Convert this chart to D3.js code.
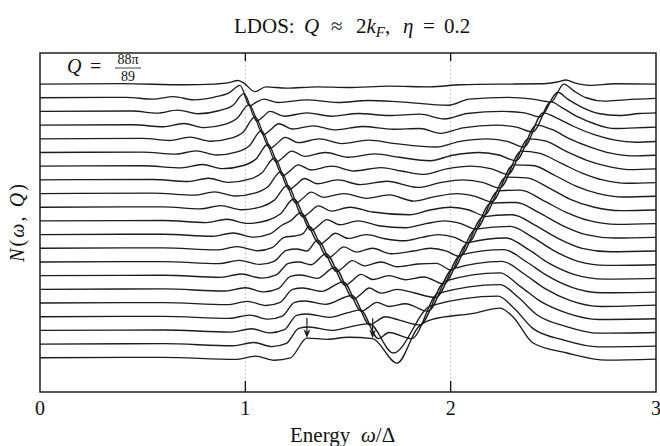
<!DOCTYPE html>
<html>
<head>
<meta charset="utf-8">
<script src="https://cdn.jsdelivr.net/npm/d3@7"></script>
<style>
body { margin: 0; background: #fff; }
text { font-family: "Liberation Serif", "DejaVu Serif", serif; fill: #111; }
</style>
</head>
<body>
<svg id="chart" width="660" height="446"></svg>
<script>
// x ticks and the dotted guides
var energyTicks = [0, 1, 2, 3];
var guideLines = [1, 2];

// one trace per Q, top (Q = 88pi/89) to bottom; each point is [omega, N - offset]
var ldos = [
  [[0,0],[0.4,0.03],[0.7,-0.05],[0.85,0.0],[0.92,0.1],[0.964,0.26],[0.99,0.1],[1.047,-0.55],[1.1,-0.2],[1.2,-0.3],[1.35,-0.2],[1.5,-0.25],[1.7,-0.15],[1.9,-0.2],[2.05,-0.05],[2.3,0],[2.45,0.02],[2.52,0.15],[2.562,0.3],[2.6,0.1],[2.68,-0.1],[2.8,0.02],[3,0]],
  [[0,0],[0.42,0.03],[0.55,-0.1],[0.65,0.08],[0.75,-0.15],[0.85,0.05],[0.92,0.35],[0.974,0.9],[1.022,-0.6],[1.05,-0.35],[1.09,-0.1],[1.16,-0.35],[1.3,-0.15],[1.45,-0.35],[1.6,-0.2],[1.75,-0.3],[1.99,-0.55],[2.09,-0.1],[2.28,0.03],[2.4,-0.1],[2.489,-0.3],[2.551,1.0],[2.6,0.5],[2.66,0.0],[2.75,-0.25],[2.85,-0.15],[3,-0.05]],
  [[0,0],[0.45,0.03],[0.57,-0.12],[0.67,0.1],[0.77,-0.17],[0.87,0.05],[0.94,0.45],[0.993,1.3],[1.056,-0.7],[1.085,-0.4],[1.12,0.0],[1.19,-0.35],[1.3,-0.1],[1.42,-0.35],[1.55,-0.15],[1.7,-0.3],[1.85,-0.2],[1.97,-0.55],[2.08,-0.15],[2.25,0.0],[2.36,-0.1],[2.435,-0.4],[2.522,1.4],[2.57,0.9],[2.64,0.3],[2.72,-0.15],[2.82,-0.3],[2.92,-0.15],[3,-0.1]],
  [[0,0],[0.45,0.03],[0.6,-0.12],[0.7,0.12],[0.8,-0.18],[0.9,0.05],[0.96,0.5],[1.018,1.5],[1.088,-0.7],[1.118,-0.4],[1.163,0.1],[1.23,-0.28],[1.33,-0.05],[1.44,-0.35],[1.57,-0.1],[1.72,-0.3],[1.85,-0.25],[1.95,-0.6],[2.06,-0.2],[2.22,0.0],[2.32,-0.15],[2.399,-0.5],[2.489,1.7],[2.54,1.3],[2.62,0.6],[2.7,0.1],[2.8,-0.25],[2.9,-0.2],[3,-0.15]],
  [[0,0],[0.5,0.03],[0.63,-0.12],[0.73,0.12],[0.83,-0.18],[0.93,0.05],[0.99,0.5],[1.047,1.6],[1.12,-0.7],[1.15,-0.4],[1.195,0.1],[1.26,-0.28],[1.36,0.0],[1.47,-0.35],[1.6,-0.1],[1.73,-0.35],[1.93,-0.6],[2.04,-0.2],[2.18,0.0],[2.28,-0.2],[2.356,-0.6],[2.45,1.9],[2.52,1.5],[2.6,0.9],[2.7,0.3],[2.8,-0.1],[2.9,-0.25],[3,-0.2]],
  [[0,0],[0.5,0.03],[0.66,-0.12],[0.76,0.12],[0.86,-0.18],[0.96,0.05],[1.02,0.5],[1.078,1.6],[1.151,-0.7],[1.181,-0.4],[1.226,0.1],[1.29,-0.28],[1.39,0.0],[1.5,-0.35],[1.63,-0.1],[1.75,-0.35],[1.9,-0.6],[2.01,-0.2],[2.14,0.0],[2.24,-0.2],[2.317,-0.6],[2.418,2.0],[2.49,1.7],[2.58,1.0],[2.68,0.4],[2.78,-0.05],[2.88,-0.25],[3,-0.2]],
  [[0,0],[0.5,0.03],[0.69,-0.12],[0.79,0.12],[0.89,-0.18],[0.99,0.05],[1.05,0.5],[1.11,1.6],[1.183,-0.7],[1.213,-0.4],[1.258,0.1],[1.32,-0.28],[1.42,0.0],[1.53,-0.35],[1.66,-0.1],[1.76,-0.35],[1.87,-0.6],[1.98,-0.2],[2.1,0.0],[2.2,-0.2],[2.278,-0.6],[2.379,2.0],[2.46,1.85],[2.56,1.1],[2.66,0.45],[2.76,0.0],[2.87,-0.25],[3,-0.2]],
  [[0,0],[0.55,0.03],[0.72,-0.12],[0.82,0.12],[0.92,-0.18],[1.02,0.05],[1.08,0.5],[1.142,1.6],[1.214,-0.7],[1.244,-0.4],[1.289,0.1],[1.35,-0.28],[1.45,0.0],[1.56,-0.35],[1.69,-0.1],[1.84,-0.55],[1.95,-0.2],[2.06,0.0],[2.16,-0.2],[2.239,-0.6],[2.344,2.1],[2.43,1.95],[2.54,1.2],[2.64,0.5],[2.74,0.0],[2.86,-0.25],[3,-0.2]],
  [[0,0],[0.55,0.03],[0.75,-0.12],[0.85,0.12],[0.95,-0.18],[1.05,0.05],[1.11,0.5],[1.173,1.6],[1.246,-0.7],[1.276,-0.4],[1.321,0.1],[1.38,-0.28],[1.48,0.0],[1.59,-0.35],[1.7,-0.1],[1.82,-0.55],[1.93,-0.2],[2.03,0.0],[2.12,-0.2],[2.2,-0.6],[2.305,2.1],[2.4,2.05],[2.51,1.3],[2.61,0.55],[2.72,0.0],[2.84,-0.25],[3,-0.2]],
  [[0,0],[0.6,0.03],[0.78,-0.12],[0.88,0.12],[0.98,-0.18],[1.08,0.05],[1.14,0.5],[1.205,1.6],[1.281,-0.7],[1.311,-0.4],[1.356,0.1],[1.42,-0.28],[1.51,0.0],[1.62,-0.35],[1.8,-0.55],[1.9,-0.2],[2.0,0.0],[2.09,-0.2],[2.161,-0.6],[2.27,2.2],[2.37,2.15],[2.48,1.4],[2.58,0.6],[2.7,0.0],[2.83,-0.25],[3,-0.2]],
  [[0,0],[0.6,0.03],[0.81,-0.12],[0.91,0.12],[1.01,-0.18],[1.11,0.05],[1.17,0.5],[1.236,1.6],[1.322,-0.7],[1.352,-0.4],[1.397,0.1],[1.46,-0.28],[1.55,0.0],[1.65,-0.35],[1.78,-0.5],[1.88,-0.2],[1.97,0.0],[2.05,-0.2],[2.122,-0.6],[2.231,2.2],[2.34,2.25],[2.45,1.5],[2.56,0.65],[2.68,0.0],[2.81,-0.25],[3,-0.2]],
  [[0,0],[0.6,0.03],[0.84,-0.12],[0.94,0.12],[1.04,-0.18],[1.12,0.05],[1.18,0.7],[1.22,1.0],[1.269,1.6],[1.364,-0.7],[1.394,-0.4],[1.439,0.1],[1.5,-0.28],[1.59,0.0],[1.68,-0.3],[1.77,-0.45],[1.86,-0.2],[1.94,0.0],[2.02,-0.2],[2.083,-0.6],[2.196,2.3],[2.32,2.35],[2.43,1.6],[2.54,0.7],[2.66,0.0],[2.8,-0.25],[3,-0.2]],
  [[0,0],[0.6,0.03],[0.86,-0.12],[0.96,0.12],[1.06,-0.18],[1.13,0.05],[1.19,0.8],[1.24,0.9],[1.28,1.05],[1.31,1.6],[1.405,-0.7],[1.435,-0.4],[1.48,0.1],[1.54,-0.28],[1.62,0.0],[1.71,-0.4],[1.82,-0.2],[1.9,0.0],[1.98,-0.2],[2.044,-0.6],[2.157,2.3],[2.3,2.45],[2.41,1.7],[2.52,0.75],[2.64,0.0],[2.78,-0.25],[3,-0.2]],
  [[0,0],[0.6,0.03],[0.87,-0.12],[0.97,0.12],[1.07,-0.18],[1.14,0.05],[1.2,0.85],[1.25,0.95],[1.3,0.8],[1.351,1.6],[1.446,-0.7],[1.476,-0.4],[1.521,0.1],[1.58,-0.28],[1.66,0.0],[1.74,-0.35],[1.84,-0.15],[1.93,-0.1],[2.005,-0.6],[2.122,2.4],[2.29,2.6],[2.4,1.8],[2.5,0.85],[2.62,0.05],[2.76,-0.25],[3,-0.2]],
  [[0,0],[0.6,0.03],[0.88,-0.12],[0.98,0.12],[1.08,-0.18],[1.15,0.05],[1.21,0.9],[1.26,1.0],[1.32,0.8],[1.393,1.6],[1.488,-0.7],[1.518,-0.4],[1.563,0.1],[1.62,-0.28],[1.7,0.0],[1.78,-0.3],[1.87,-0.1],[1.966,-0.6],[2.083,2.4],[2.27,2.75],[2.38,1.9],[2.48,0.9],[2.6,0.1],[2.75,-0.25],[3,-0.2]],
  [[0,0],[0.6,0.03],[0.9,-0.12],[1.0,0.12],[1.09,-0.18],[1.16,0.05],[1.22,0.95],[1.27,1.05],[1.35,0.8],[1.434,1.6],[1.529,-0.7],[1.559,-0.4],[1.604,0.1],[1.66,-0.28],[1.74,0.0],[1.82,-0.25],[1.927,-0.6],[2.048,2.5],[2.26,2.9],[2.37,2.0],[2.47,1.0],[2.59,0.15],[2.74,-0.25],[3,-0.2]],
  [[0,0],[0.6,0.03],[0.91,-0.12],[1.01,0.12],[1.1,-0.18],[1.17,0.05],[1.23,1.0],[1.28,1.1],[1.37,0.85],[1.477,1.55],[1.566,-0.6],[1.596,-0.35],[1.64,0.05],[1.7,-0.25],[1.78,-0.05],[1.888,-0.6],[2.009,2.5],[2.25,3.05],[2.36,2.1],[2.46,1.05],[2.58,0.2],[2.73,-0.25],[3,-0.15]],
  [[0,0],[0.6,0.03],[0.92,-0.12],[1.02,0.12],[1.11,-0.18],[1.18,0.05],[1.24,1.05],[1.29,1.15],[1.39,0.9],[1.519,1.55],[1.607,-0.6],[1.637,-0.35],[1.68,0.0],[1.75,-0.25],[1.849,-0.6],[1.973,2.6],[2.24,3.2],[2.34,2.2],[2.44,1.1],[2.57,0.25],[2.72,-0.2],[3,-0.15]],
  [[0,0],[0.6,0.03],[0.93,-0.12],[1.03,0.12],[1.12,-0.18],[1.19,0.05],[1.25,1.1],[1.3,1.2],[1.41,0.95],[1.5,1.3],[1.56,1.5],[1.648,-0.6],[1.7,-0.15],[1.81,-0.6],[1.938,2.7],[2.24,3.35],[2.33,2.4],[2.42,1.15],[2.56,0.3],[2.72,-0.2],[3,-0.15]],
  [[0,0],[0.6,0.03],[0.94,-0.12],[1.04,0.12],[1.13,-0.18],[1.2,0.05],[1.26,1.15],[1.31,1.25],[1.42,1.0],[1.52,1.3],[1.603,1.5],[1.72,-0.65],[1.903,2.8],[2.23,3.5],[2.31,2.6],[2.4,1.15],[2.55,0.3],[2.72,-0.2],[3,-0.15]],
  [[0,0],[0.6,0.03],[0.95,-0.12],[1.05,0.12],[1.14,-0.18],[1.22,0.0],[1.3,1.44],[1.4,1.35],[1.5,1.5],[1.62,1.4],[1.739,-0.39],[1.84,2.2],[1.91,2.8],[2.11,3.25],[2.24,3.63],[2.304,2.98],[2.401,1.08],[2.567,0.35],[2.76,-0.17],[3,-0.1]]
];

// vertical shift of each trace (top trace highest)
var offsets = ldos.map(function(d, i){ return ldos.length - 1 - i; });

// the two arrows on the lowest trace: [omega, value at tip]
var arrowMarks = [[1.30, 1.44], [1.62, 1.42]];

var svg = d3.select("#chart");
var plotLeft = 40, plotRight = 656, plotTop = 53, plotBottom = 392;

var x = d3.scaleLinear().domain([0, 3]).range([plotLeft, plotRight]);
var y = d3.scaleLinear().domain([-2.5, 22.27]).range([plotBottom, plotTop]);

// dotted guides
svg.selectAll(".guide").data(guideLines).enter().append("line")
    .attr("x1", function(d){ return x(d); })
    .attr("x2", function(d){ return x(d); })
    .attr("y1", plotTop).attr("y2", plotBottom)
    .attr("stroke", "#b8b8b8")
    .attr("stroke-width", 1)
    .attr("stroke-dasharray", "1.5,2.5");

// traces
var line = d3.line()
    .x(function(d){ return x(d[0]); })
    .curve(d3.curveMonotoneX);

svg.selectAll(".trace").data(ldos).enter().append("path")
    .attr("d", function(d, i){
        return line.y(function(p){ return y(p[1] + offsets[i]); })(d);
    })
    .attr("fill", "none")
    .attr("stroke", "#1c1c1c")
    .attr("stroke-width", 1.35)
    .attr("stroke-linejoin", "round");

// arrows
var last = offsets[offsets.length - 1];
var arrows = svg.selectAll(".arrow").data(arrowMarks).enter().append("g");
arrows.append("line")
    .attr("x1", function(d){ return x(d[0]); })
    .attr("x2", function(d){ return x(d[0]); })
    .attr("y1", function(d){ return y(d[1] + last) - 20; })
    .attr("y2", function(d){ return y(d[1] + last) - 3; })
    .attr("stroke", "#1c1c1c").attr("stroke-width", 1.2);
arrows.append("path")
    .attr("d", function(d){
        var tx = x(d[0]), ty = y(d[1] + last);
        return "M" + (tx - 3.5) + " " + (ty - 9) + " L" + tx + " " + ty + " L" + (tx + 3.5) + " " + (ty - 9) + " L" + tx + " " + (ty - 6) + " Z";
    })
    .attr("fill", "#1c1c1c");

// frame
svg.append("rect")
    .attr("x", plotLeft).attr("y", plotTop)
    .attr("width", plotRight - plotLeft).attr("height", plotBottom - plotTop)
    .attr("fill", "none").attr("stroke", "#111").attr("stroke-width", 1.4);

// inward ticks, bottom and top
svg.selectAll(".tickb").data(guideLines).enter().append("line")
    .attr("x1", function(d){ return x(d); }).attr("x2", function(d){ return x(d); })
    .attr("y1", plotBottom).attr("y2", plotBottom - 11)
    .attr("stroke", "#111").attr("stroke-width", 1.3);
svg.selectAll(".tickt").data(guideLines).enter().append("line")
    .attr("x1", function(d){ return x(d); }).attr("x2", function(d){ return x(d); })
    .attr("y1", plotTop).attr("y2", plotTop + 8)
    .attr("stroke", "#111").attr("stroke-width", 1.3);

svg.selectAll(".ticklabel").data(energyTicks).enter().append("text")
    .attr("x", function(d){ return x(d); })
    .attr("y", 415)
    .attr("text-anchor", "middle")
    .style("font-size", "20px")
    .text(function(d){ return d; });

// title, pieces placed like the TeX layout
var title = svg.append("text").attr("y", 33).style("font-size", "21px");
title.append("tspan").attr("x", 234).text("LDOS:");
title.append("tspan").attr("x", 304).style("font-style", "italic").text("Q");
title.append("tspan").attr("x", 331).text("\u2248");
title.append("tspan").attr("x", 356).text("2");
title.append("tspan").style("font-style", "italic").text("k");
title.append("tspan").style("font-style", "italic").style("font-size", "15px").attr("dy", 4).text("F");
title.append("tspan").attr("dy", -4).text(",");
title.append("tspan").attr("x", 403).style("font-style", "italic").text("\u03b7");
title.append("tspan").attr("x", 423).text("=");
title.append("tspan").attr("x", 444).text("0.2");

// x label
var xlab = svg.append("text").attr("y", 442).style("font-size", "21px");
xlab.append("tspan").attr("x", 290).text("Energy");
xlab.append("tspan").attr("x", 361).style("font-style", "italic").text("\u03c9");
xlab.append("tspan").text("/\u0394");

// y label
var ylab = svg.append("text")
    .attr("transform", "translate(24,223) rotate(-90)")
    .attr("text-anchor", "middle")
    .attr("textLength", 78).attr("lengthAdjust", "spacing")
    .style("font-size", "20px");
ylab.append("tspan").style("font-style", "italic").text("N");
ylab.append("tspan").text("(");
ylab.append("tspan").style("font-style", "italic").text("\u03c9");
ylab.append("tspan").text(", ");
ylab.append("tspan").style("font-style", "italic").text("Q");
ylab.append("tspan").text(")");

// Q label in the corner
svg.append("text").attr("x", 67).attr("y", 73)
    .style("font-size", "20px").style("font-style", "italic").text("Q");
svg.append("text").attr("x", 90).attr("y", 73)
    .style("font-size", "20px").text("=");
svg.append("text").attr("x", 128).attr("y", 64)
    .attr("text-anchor", "middle").style("font-size", "14px").text("88\u03c0");
svg.append("text").attr("x", 128).attr("y", 81)
    .attr("text-anchor", "middle").style("font-size", "14px").text("89");
svg.append("line").attr("x1", 115).attr("x2", 141).attr("y1", 68).attr("y2", 68)
    .attr("stroke", "#111").attr("stroke-width", 0.8);
</script>
</body>
</html>
